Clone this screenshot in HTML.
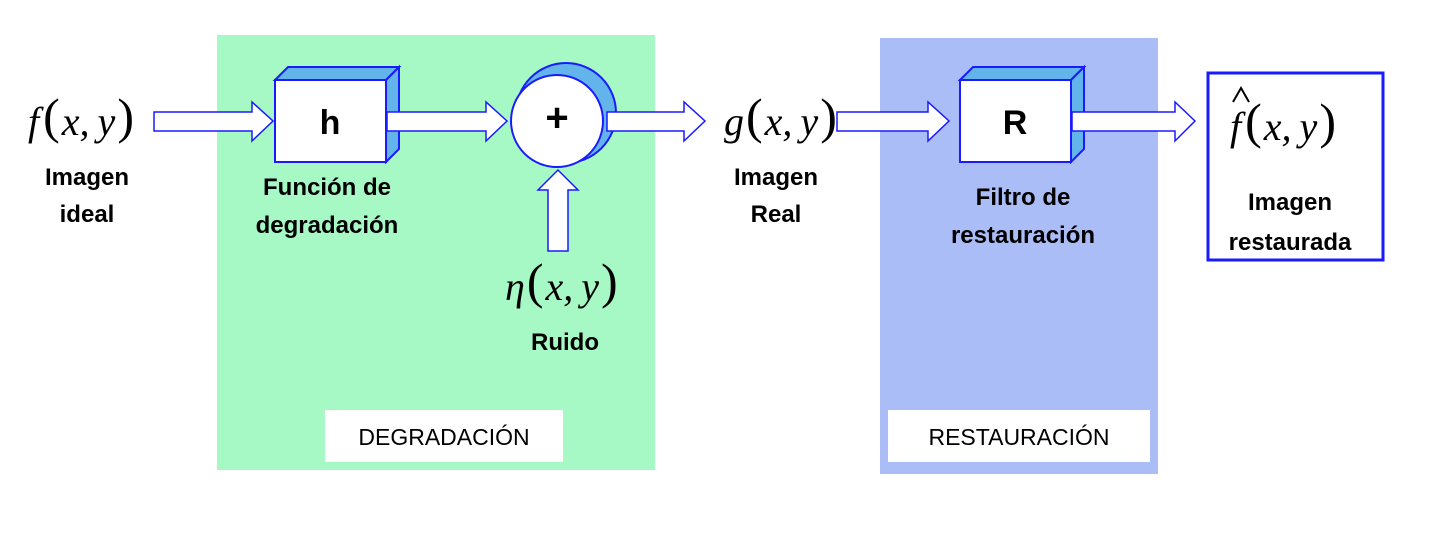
<!DOCTYPE html>
<html><head><meta charset="utf-8"><style>
html,body{margin:0;padding:0;background:#fff}
svg{display:block}
.lbl{font-family:"Comic Sans MS","Liberation Sans",sans-serif;font-weight:bold;font-size:24px;fill:#000;text-anchor:middle}
.math{font-family:"Liberation Serif",serif;font-style:italic;font-size:40px;fill:#000}
.par{font-family:"Liberation Serif",serif;font-size:50px;fill:#000;font-style:normal}
.cap{font-family:"Liberation Sans",sans-serif;font-size:23px;fill:#000;text-anchor:middle}
.arr{fill:#fff;stroke:#1a1aff;stroke-width:1.5}
</style></head><body>
<svg width="1452" height="540" viewBox="0 0 1452 540">
<rect x="217" y="35" width="438" height="435" fill="#a6f8c4"/>
<rect x="880" y="38" width="278" height="436" fill="#abbdf6"/>
<rect x="325" y="410" width="238" height="52" fill="#fff"/>
<text x="444" y="445" class="cap">DEGRADACIÓN</text>
<rect x="888" y="410" width="262" height="52" fill="#fff"/>
<text x="1019" y="445" class="cap">RESTAURACIÓN</text>

<!-- h box -->
<g>
<path d="M275,80 L288,67 H399 L386,80 Z" fill="#62b4ea" stroke="#1a1aff" stroke-width="2"/>
<path d="M386,80 L399,67 V149 L386,162 Z" fill="#62b4ea" stroke="#1a1aff" stroke-width="2"/>
<rect x="275" y="80" width="111" height="82" fill="#fff" stroke="#1a1aff" stroke-width="2"/>
<text x="330" y="134" class="lbl" style="font-size:34px">h</text>
</g>
<!-- sum -->
<g>
<circle cx="566" cy="113" r="50" fill="#62b4ea" stroke="#1a1aff" stroke-width="2"/>
<circle cx="557" cy="121" r="46" fill="#fff" stroke="#1a1aff" stroke-width="2"/>
<text x="557" y="131" class="lbl" style="font-size:40px">+</text>
</g>
<!-- R box -->
<g>
<path d="M960,80 L973,67 H1084 L1071,80 Z" fill="#62b4ea" stroke="#1a1aff" stroke-width="2"/>
<path d="M1071,80 L1084,67 V149 L1071,162 Z" fill="#62b4ea" stroke="#1a1aff" stroke-width="2"/>
<rect x="960" y="80" width="111" height="82" fill="#fff" stroke="#1a1aff" stroke-width="2"/>
<text x="1015" y="134" class="lbl" style="font-size:34px">R</text>
</g>

<!-- arrows -->
<path class="arr" d="M154,112 H252 V102 L273,121 L252,141 V131 H154 Z"/>
<path class="arr" d="M387,112 H486 V102 L507,121 L486,141 V131 H387 Z"/>
<path class="arr" d="M607,112 H684 V102 L705,121 L684,141 V131 H607 Z"/>
<path class="arr" d="M837,112 H928 V102 L949,121 L928,141 V131 H837 Z"/>
<path class="arr" d="M1072,112 H1175 V102 L1195,121 L1175,141 V131 H1072 Z"/>
<path class="arr" d="M548,251 V190 H538 L558,170 L578,190 H568 V251 Z"/>

<!-- output box -->
<rect x="1208" y="73" width="175" height="187" fill="#fff" stroke="#1a1aff" stroke-width="3"/>

<!-- math -->
<text x="28" y="135" class="math">f<tspan class="par" dx="4" dy="-2">(</tspan><tspan dx="2" dy="2">x,</tspan><tspan dx="8">y</tspan><tspan class="par" dx="2" dy="-2">)</tspan></text>
<text x="724" y="135" class="math">g<tspan class="par" dx="2" dy="-2">(</tspan><tspan dx="2" dy="2">x,</tspan><tspan dx="8">y</tspan><tspan class="par" dx="2" dy="-2">)</tspan></text>
<text x="505" y="300" class="math">η<tspan class="par" dx="2" dy="-2">(</tspan><tspan dx="2" dy="2">x,</tspan><tspan dx="8">y</tspan><tspan class="par" dx="2" dy="-2">)</tspan></text>
<text x="1230" y="140" class="math">f<tspan class="par" dx="4" dy="-2">(</tspan><tspan dx="2" dy="2">x,</tspan><tspan dx="8">y</tspan><tspan class="par" dx="2" dy="-2">)</tspan></text>
<path d="M1233,102 L1241,88 L1249,102" fill="none" stroke="#000" stroke-width="2"/>

<!-- labels -->
<text x="87" y="185" class="lbl">Imagen</text>
<text x="87" y="222" class="lbl">ideal</text>
<text x="327" y="195" class="lbl">Función de</text>
<text x="327" y="233" class="lbl">degradación</text>
<text x="776" y="185" class="lbl">Imagen</text>
<text x="776" y="222" class="lbl">Real</text>
<text x="565" y="350" class="lbl">Ruido</text>
<text x="1023" y="205" class="lbl">Filtro de</text>
<text x="1023" y="243" class="lbl">restauración</text>
<text x="1290" y="210" class="lbl">Imagen</text>
<text x="1290" y="250" class="lbl">restaurada</text>
</svg>
</body></html>
